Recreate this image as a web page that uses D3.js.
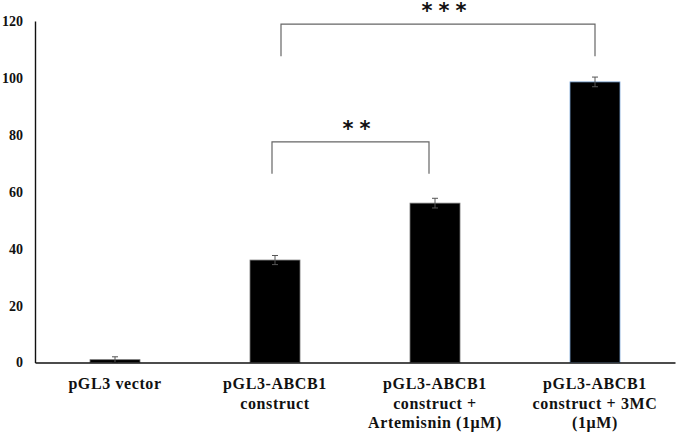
<!DOCTYPE html>
<html>
<head>
<meta charset="utf-8">
<script src="https://cdn.jsdelivr.net/npm/d3@7"></script>
<style>
html,body{margin:0;padding:0;background:#fff;}
svg{display:block;}
</style>
</head>
<body>
<div id="chart"></div>
<script>
const categories = [
  ["pGL3 vector"],
  ["pGL3-ABCB1", "construct"],
  ["pGL3-ABCB1", "construct +", "Artemisnin (1\u03bcM)"],
  ["pGL3-ABCB1", "construct + 3MC", "(1\u03bcM)"]
];
const values = [1, 36, 56, 98.6];
const errors = [1, 1.6, 1.7, 1.7];
const yTicks = [0, 20, 40, 60, 80, 100, 120];
// significance brackets: [from index, to index, bar level, leg bottom level, label]
const brackets = [
  [1, 2, 77.5, 66.3, "**"],
  [1, 3, 118.9, 107.6, "***"]
];

const W = 677, H = 434;
const m = {left: 35, right: 2, top: 21, bottom: 71.5};
const svg = d3.select("#chart").append("svg").attr("width", W).attr("height", H);

const x = d3.scaleBand().domain(d3.range(categories.length))
  .range([m.left, W - m.right]).paddingInner(0.6875).paddingOuter(0.34375);
const y = d3.scaleLinear().domain([0, 120]).range([H - m.bottom, m.top]);

const serif = "'Liberation Serif','Times New Roman',serif";

// y axis
const yAxis = svg.append("g").attr("transform", `translate(${m.left},0)`)
  .call(d3.axisLeft(y).tickValues(yTicks).tickSize(0).tickPadding(12));
yAxis.select(".domain").attr("stroke", "#111").attr("stroke-width", 1.4);
yAxis.selectAll("text").attr("font-family", serif).attr("font-weight", "bold")
  .attr("font-size", 14).attr("fill", "#111");

// bars
const bw = x.bandwidth();
svg.selectAll("rect.bar").data(values).enter().append("rect")
  .attr("class", "bar")
  .attr("x", (d, i) => x(i))
  .attr("y", d => y(d))
  .attr("width", bw)
  .attr("height", d => y(0) - y(d))
  .attr("fill", "#000")
  .attr("stroke", (d, i) => i === 3 ? "#7aa6d8" : "#777")
  .attr("stroke-width", 0.8);

// error bars
const eg = svg.append("g").attr("stroke", "#555").attr("stroke-width", 1);
values.forEach((v, i) => {
  const cx = x(i) + bw / 2;
  eg.append("line").attr("x1", cx).attr("x2", cx).attr("y1", y(v + errors[i])).attr("y2", y(v - errors[i]));
  eg.append("line").attr("x1", cx - 3).attr("x2", cx + 3).attr("y1", y(v + errors[i])).attr("y2", y(v + errors[i]));
  eg.append("line").attr("x1", cx - 3).attr("x2", cx + 3).attr("y1", y(v - errors[i])).attr("y2", y(v - errors[i]));
});

// x axis
const xAxis = svg.append("g").attr("transform", `translate(0,${y(0)})`)
  .call(d3.axisBottom(x).tickSize(0).tickFormat(""));
xAxis.select(".domain").attr("stroke", "#111").attr("stroke-width", 1.4);

// category labels
categories.forEach((lines, i) => {
  const t = svg.append("text")
    .attr("x", x(i) + bw / 2)
    .attr("text-anchor", "middle")
    .attr("font-family", serif).attr("font-weight", "bold")
    .attr("font-size", 16).attr("letter-spacing", 0.6).attr("fill", "#111");
  lines.forEach((ln, k) => {
    t.append("tspan").attr("x", x(i) + bw / 2).attr("y", 389 + k * 19.5).text(ln);
  });
});

// brackets
const bg = svg.append("g");
const ls = 6;
brackets.forEach(([a, b, top, bottom, label], j) => {
  const x1 = x(a) + bw / 2 + (j === 1 ? 6 : -3);
  const x2 = x(b) + bw / 2 - (j === 1 ? 0 : 6);
  bg.append("path")
    .attr("d", `M${x1},${y(bottom)}V${y(top)}H${x2}V${y(bottom)}`)
    .attr("fill", "none").attr("stroke", "#666").attr("stroke-width", 1.2);
  bg.append("text")
    .attr("x", (x1 + x2) / 2 + 6 + ls / 2)
    .attr("y", y(top) - 6)
    .attr("text-anchor", "middle")
    .attr("font-family", "'DejaVu Sans',sans-serif").attr("font-weight", "bold")
    .attr("font-size", 21).attr("letter-spacing", ls).attr("fill", "#111")
    .text(label);
});
</script>
</body>
</html>
